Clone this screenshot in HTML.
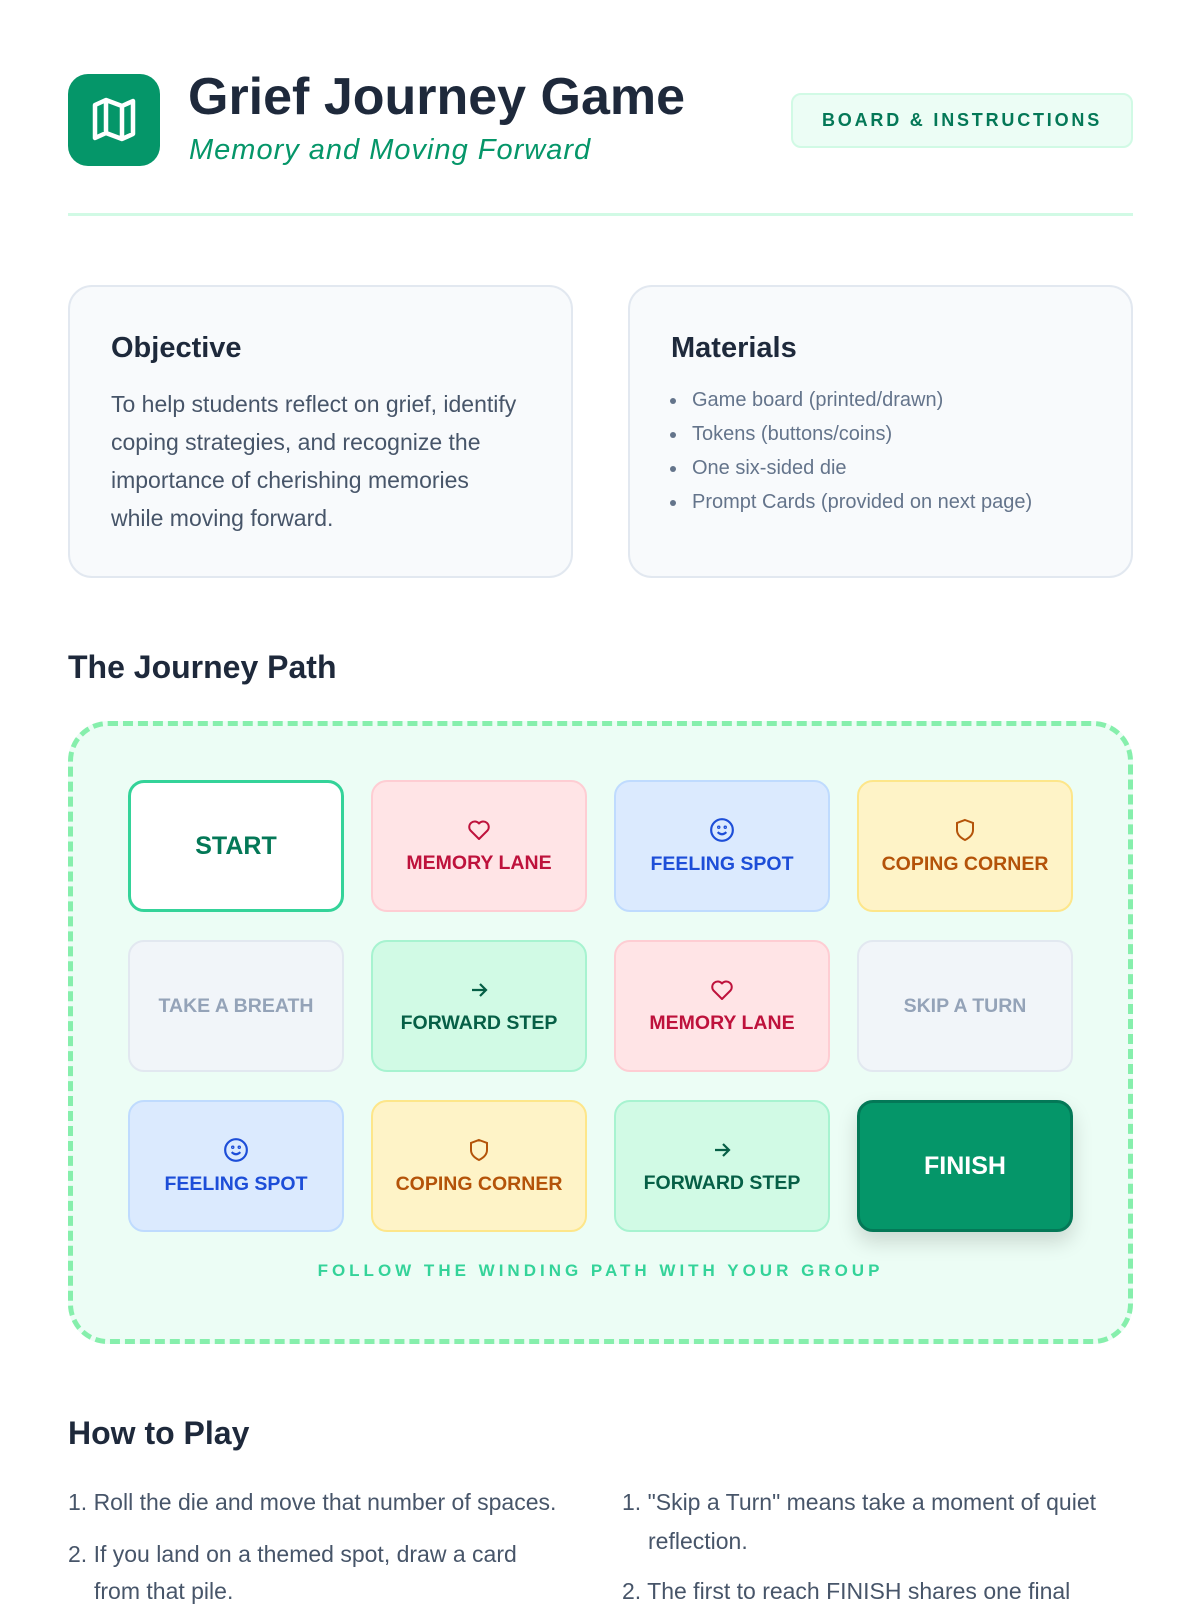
<!DOCTYPE html>
<html><head><meta charset="utf-8"><style>
*{margin:0;padding:0;box-sizing:border-box}
body{width:1200px;height:1600px;background:#fff;font-family:"Liberation Sans",sans-serif;position:relative;overflow:hidden;color:#1e293b}
.a{position:absolute}
.icon{left:68px;top:74px;width:92px;height:92px;background:#059669;border-radius:20px}
.title{left:188px;top:67px;font-size:52px;font-weight:bold;letter-spacing:0px;color:#1e293b}
.sub{left:189px;top:134px;font-size:29px;font-style:italic;color:#059669;letter-spacing:1px}
.badge{left:791px;top:93px;width:342px;height:55px;background:#ecfdf5;border:2px solid #d1fae5;border-radius:10px;color:#047857;font-weight:bold;font-size:18px;letter-spacing:2.8px;text-align:center;line-height:51px}
.rule{left:68px;top:213px;width:1065px;height:3px;background:#d1fae5}
.card{top:285px;width:505px;height:293px;background:#f8fafc;border:2px solid #e2e8f0;border-radius:24px}
.card h2{position:absolute;left:41px;top:45px;font-size:29px;font-weight:bold;color:#1e293b}
.card p{position:absolute;left:41px;top:98px;white-space:nowrap;font-size:23px;line-height:38px;color:#475569}
.card ul{position:absolute;left:58px;top:96px;font-size:20px;line-height:34px;color:#64748b}
.card li{padding-left:4px}
h3{position:absolute;font-size:32px;font-weight:bold;color:#1e293b}
.board{left:68px;top:721px;width:1065px;height:623px;background:#ecfdf5;border:5px dashed #86efac;border-radius:40px}
.t{position:absolute;width:216px;height:132px;border-radius:16px;border:2px solid;display:flex;flex-direction:column;align-items:center;justify-content:center;font-weight:bold;font-size:19.5px}
.t svg{margin-bottom:10px}
.mem{background:#ffe4e6;border-color:#fecdd3;color:#be123c}
.fee{background:#dbeafe;border-color:#bfdbfe;color:#1d4ed8}
.cop{background:#fef3c7;border-color:#fde68a;color:#b45309}
.fwd{background:#d1fae5;border-color:#a7f3d0;color:#065f46}
.gry{background:#f1f5f9;border-color:#e2e8f0;color:#94a3b8}
.follow{left:68px;top:1261px;width:1065px;text-align:center;font-size:17px;font-weight:bold;letter-spacing:4px;color:#34d399}
.li{position:absolute;font-size:23px;line-height:38px;color:#475569;white-space:nowrap}
</style></head><body>
<div class="a icon"><svg width="92" height="92" viewBox="0 0 92 92"><path d="M27 31 L38 26 L54 32 L65 27 L65 60 L54 65 L38 59 L27 64 Z M38 26 L38 59 M54 32 L54 65" fill="none" stroke="#fff" stroke-width="4.5" stroke-linejoin="round"/></svg></div>
<div class="a title">Grief Journey Game</div>
<div class="a sub">Memory and Moving Forward</div>
<div class="a badge">BOARD &amp; INSTRUCTIONS</div>
<div class="a rule"></div>

<div class="a card" style="left:68px"><h2>Objective</h2><p>To help students reflect on grief, identify<br>coping strategies, and recognize the<br>importance of cherishing memories<br>while moving forward.</p></div>
<div class="a card" style="left:628px"><h2>Materials</h2><ul><li>Game board (printed/drawn)</li><li>Tokens (buttons/coins)</li><li>One six-sided die</li><li>Prompt Cards (provided on next page)</li></ul></div>

<h3 style="left:68px;top:649px">The Journey Path</h3>
<div class="a board"></div>

<div class="t" style="left:128px;top:780px;background:#fff;border:3px solid #34d399;color:#047857;font-size:25px">START</div>
<div class="t mem" style="left:371px;top:780px"><svg width="26" height="24" viewBox="0 0 24 24"><path d="M12 21 L3.5 12.5 A5 5 0 0 1 12 5.5 A5 5 0 0 1 20.5 12.5 Z" fill="none" stroke="#be123c" stroke-width="2" stroke-linejoin="round"/></svg>MEMORY LANE</div>
<div class="t fee" style="left:614px;top:780px"><svg width="26" height="26" viewBox="0 0 24 24" fill="none" stroke="#1d4ed8" stroke-width="2"><circle cx="12" cy="12" r="10"/><path d="M8 14 Q12 18 16 14"/><circle cx="9" cy="9.5" r=".6"/><circle cx="15" cy="9.5" r=".6"/></svg>FEELING SPOT</div>
<div class="t cop" style="left:857px;top:780px"><svg width="24" height="26" viewBox="0 0 24 24" fill="none" stroke="#b45309" stroke-width="2"><path d="M12 2 L20 5 V12 C20 17 16 20 12 22 C8 20 4 17 4 12 V5 Z"/></svg>COPING CORNER</div>

<div class="t gry" style="left:128px;top:940px">TAKE A BREATH</div>
<div class="t fwd" style="left:371px;top:940px"><svg width="24" height="24" viewBox="0 0 24 24" fill="none" stroke="#065f46" stroke-width="2.2"><path d="M5 12 H19 M13 6 L19 12 L13 18"/></svg>FORWARD STEP</div>
<div class="t mem" style="left:614px;top:940px"><svg width="26" height="24" viewBox="0 0 24 24"><path d="M12 21 L3.5 12.5 A5 5 0 0 1 12 5.5 A5 5 0 0 1 20.5 12.5 Z" fill="none" stroke="#be123c" stroke-width="2" stroke-linejoin="round"/></svg>MEMORY LANE</div>
<div class="t gry" style="left:857px;top:940px">SKIP A TURN</div>

<div class="t fee" style="left:128px;top:1100px"><svg width="26" height="26" viewBox="0 0 24 24" fill="none" stroke="#1d4ed8" stroke-width="2"><circle cx="12" cy="12" r="10"/><path d="M8 14 Q12 18 16 14"/><circle cx="9" cy="9.5" r=".6"/><circle cx="15" cy="9.5" r=".6"/></svg>FEELING SPOT</div>
<div class="t cop" style="left:371px;top:1100px"><svg width="24" height="26" viewBox="0 0 24 24" fill="none" stroke="#b45309" stroke-width="2"><path d="M12 2 L20 5 V12 C20 17 16 20 12 22 C8 20 4 17 4 12 V5 Z"/></svg>COPING CORNER</div>
<div class="t fwd" style="left:614px;top:1100px"><svg width="24" height="24" viewBox="0 0 24 24" fill="none" stroke="#065f46" stroke-width="2.2"><path d="M5 12 H19 M13 6 L19 12 L13 18"/></svg>FORWARD STEP</div>
<div class="t" style="left:857px;top:1100px;background:#059669;border:3px solid #047857;color:#fff;font-size:25px;box-shadow:0 10px 20px rgba(0,0,0,.15)">FINISH</div>

<div class="a follow">FOLLOW THE WINDING PATH WITH YOUR GROUP</div>

<h3 style="left:68px;top:1415px">How to Play</h3>
<div class="li" style="left:68px;top:1483px">1. Roll the die and move that number of spaces.</div>
<div class="li" style="left:68px;top:1535px">2. If you land on a themed spot, draw a card</div>
<div class="li" style="left:94px;top:1572px">from that pile.</div>
<div class="li" style="left:622px;top:1483px">1. "Skip a Turn" means take a moment of quiet</div>
<div class="li" style="left:648px;top:1522px">reflection.</div>
<div class="li" style="left:622px;top:1572px">2. The first to reach FINISH shares one final</div>
</body></html>
